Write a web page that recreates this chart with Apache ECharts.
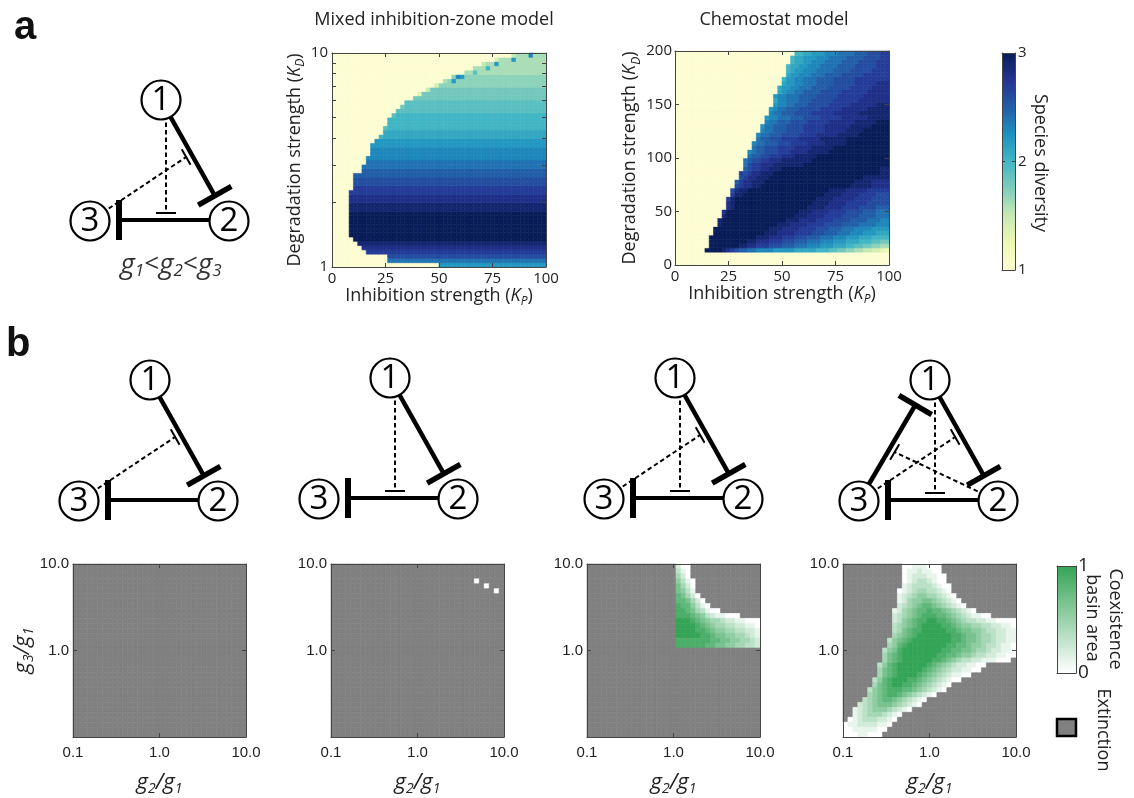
<!DOCTYPE html>
<html>
<head>
<meta charset="utf-8">
<title>Species diversity and coexistence basin</title>
<script src="https://cdn.jsdelivr.net/npm/echarts@6.0.0/dist/echarts.min.js"></script>
<style>
html,body{margin:0;padding:0;background:#fff;}
#chart{width:1134px;height:798px;}
</style>
</head>
<body>
<div id="chart"></div>
<script>
// ======================= DATA =======================
// Species-diversity code: position in this string / 10 + 1  (0 -> 1.0 ... K -> 3.0)
const DIVERSITY_CODES = '0123456789ABCDEFGHIJK';

// Mixed inhibition-zone model: 50 columns (K_P 0..100, step 2) x 50 rows (log10 K_D 0..1, step 0.02)
// run-length rows, bottom row first; token = code 'x' count
const mixedRowsBottomUp = [
  "0x25 Cx25", "0x13 Ex37", "0x13 Gx37", "0x8 Hx42", "0x7 Ix43",
  "0x6 Jx44", "0x5 Kx45", "0x4 Kx46", "0x4 Kx46", "0x4 Kx46",
  "0x4 Kx46", "0x4 Kx46", "0x4 Kx46", "0x4 Jx46", "0x4 Jx46",
  "0x4 Ix46", "0x4 Ix46", "0x4 Hx46", "0x5 Hx45", "0x5 Gx45",
  "0x5 Gx45", "0x5 Fx45", "0x7 Fx43", "0x7 Ex43", "0x8 Ex42",
  "0x8 Dx42", "0x9 Dx41", "0x9 Dx41", "0x9 Cx41", "0x10 Cx40",
  "0x11 Ax1 Bx38", "0x12 Bx38", "0x12 9x1 Ax37", "0x13 Ax37", "0x13 Ax37",
  "0x14 9x1 Ax35", "0x15 9x35", "0x16 8x1 9x33", "0x17 9x33", "0x19 8x31",
  "0x20 3x1 8x29", "0x22 5x1 8x27", "0x24 4x1 7x25", "0x26 6x1 7x1 Cx1 7x21", "0x28 7x1 Dx1 Cx1 7x19",
  "0x31 6x2 9x1 6x16", "0x33 6x3 Ax1 6x13", "0x35 5x1 6x2 Cx1 6x11", "0x38 4x1 6x3 Cx1 6x7", "0x42 5x1 6x3 Dx1 6x3"
];

// Chemostat model: 50 columns (K_P 0..100, step 2) x 50 rows (K_D 0..200, step 4), bottom row first
const chemoRowsBottomUp = [
  "0x50", "0x50", "0x50",
  "0x7 Kx4 Jx1 Ix1 Hx1 Gx1 Fx2 Ex2 Dx4 Cx5 Bx5 Ax3 9x2 8x2 7x2 6x2 5x2 4x2 3x1 2x1",
  "0x8 Kx7 Jx2 Ix2 Hx3 Gx3 Fx3 Ex3 Dx3 Cx3 Bx3 Ax2 9x2 8x2 7x2 6x2",
  "0x8 Kx9 Jx2 Ix3 Hx3 Gx3 Fx3 Ex3 Dx3 Cx3 Bx3 Ax3 9x2 8x2",
  "0x8 Kx11 Jx3 Ix3 Hx3 Gx3 Fx3 Ex3 Dx3 Cx3 Bx3 Ax4",
  "0x9 Kx12 Jx3 Ix4 Hx4 Gx3 Fx3 Ex3 Dx3 Cx3 Bx3",
  "0x9 Kx13 Jx3 Ix4 Hx4 Gx3 Fx3 Ex3 Dx4 Cx4",
  "0x10 Jx1 Kx13 Jx3 Ix4 Hx4 Gx4 Fx4 Ex4 Dx3",
  "0x10 Jx1 Kx15 Jx3 Ix4 Hx4 Gx4 Fx4 Ex3 Dx2",
  "0x11 Jx1 Kx16 Jx3 Ix4 Hx4 Gx4 Fx4 Ex3",
  "0x11 Ix1 Kx17 Jx3 Ix4 Hx4 Gx4 Fx3 Ex3",
  "0x12 Ix1 Jx1 Kx17 Jx4 Ix4 Hx4 Gx4 Fx3",
  "0x12 Ix1 Jx1 Kx18 Jx4 Ix4 Hx5 Gx5",
  "0x12 Hx1 Jx1 Kx19 Jx4 Ix5 Hx4 Gx4",
  "0x13 Hx1 Jx2 Kx19 Jx4 Ix4 Hx4 Gx3",
  "0x13 Gx1 Ix1 Jx2 Kx19 Jx4 Ix5 Hx5",
  "0x14 Gx1 Hx1 Ix2 Jx2 Kx21 Jx5 Ix4",
  "0x14 Fx1 Hx1 Ix2 Jx3 Kx21 Jx4 Ix4",
  "0x15 Gx1 Hx1 Ix2 Jx3 Kx22 Jx6",
  "0x15 Hx1 Gx1 Hx1 Ix2 Jx3 Kx25 Jx2",
  "0x16 Fx1 Gx1 Hx2 Ix2 Jx3 Kx23 Jx2",
  "0x16 Ex1 Gx1 Hx2 Ix3 Jx7 Kx20",
  "0x16 Ex1 Fx1 Gx2 Hx2 Ix3 Jx7 Kx18",
  "0x17 Ex1 Fx2 Gx2 Hx3 Ix3 Jx5 Kx17",
  "0x17 Dx1 Ex1 Fx2 Gx3 Hx3 Ix4 Jx5 Kx14",
  "0x18 Ex1 Fx2 Gx3 Hx4 Ix4 Jx5 Kx13",
  "0x18 Dx1 Ex2 Fx3 Gx3 Hx4 Ix4 Jx5 Kx10",
  "0x19 Ex1 Fx2 Gx3 Hx4 Ix5 Jx6 Kx10",
  "0x19 Dx1 Ex2 Fx3 Gx4 Hx4 Ix5 Jx5 Kx7",
  "0x20 Dx1 Ex2 Fx3 Gx4 Hx5 Ix5 Jx4 Kx6",
  "0x20 Cx1 Ex2 Fx3 Gx4 Hx5 Ix6 Jx5 Kx4",
  "0x21 Dx1 Ex2 Fx3 Gx4 Hx5 Ix6 Jx5 Kx3",
  "0x21 Cx1 Dx2 Ex3 Fx3 Gx4 Hx5 Ix6 Jx5",
  "0x22 Dx1 Ex2 Fx3 Gx4 Hx5 Ix6 Jx7",
  "0x22 Cx1 Dx1 Ex2 Fx3 Gx5 Hx5 Ix6 Jx5",
  "0x23 Cx1 Dx2 Ex2 Fx3 Gx5 Hx5 Ix6 Jx3",
  "0x23 Bx1 Dx2 Ex3 Fx3 Gx5 Hx6 Ix7",
  "0x23 Cx1 Dx2 Ex3 Fx4 Gx5 Hx6 Ix6",
  "0x24 Bx1 Cx1 Dx2 Ex2 Fx4 Gx5 Hx6 Ix5",
  "0x24 Bx1 Cx2 Dx2 Ex3 Fx4 Gx5 Hx5 Ix4",
  "0x25 Bx1 Cx2 Dx2 Ex3 Fx4 Gx5 Hx5 Ix3",
  "0x25 Ax1 Cx2 Dx2 Ex3 Fx4 Gx5 Hx8",
  "0x26 Bx1 Cx2 Dx3 Ex3 Fx4 Gx5 Hx6",
  "0x26 Ax1 Bx1 Cx2 Dx3 Ex4 Fx4 Gx5 Hx4",
  "0x26 Ax1 Bx2 Cx2 Dx3 Ex4 Fx4 Gx5 Hx3",
  "0x27 Ax1 Bx2 Cx2 Dx3 Ex4 Fx4 Gx4 Hx3",
  "0x27 Ax1 Bx2 Cx3 Dx3 Ex4 Fx4 Gx4 Hx2",
  "0x28 Ax2 Bx2 Cx3 Dx3 Ex4 Fx3 Gx3 Hx2"
];

// Coexistence basin area maps: 35 x 35 cells, log10(g2/g1) and log10(g3/g1) from -1 to 1.
// '.' = extinction, digit d = basin area d/9. Top row first.
const basin1RowsTopDown = [
  ".x35",".x35",".x35",".x35",".x35",".x35",".x35",".x35",".x35",".x35",
  ".x35",".x35",".x35",".x35",".x35",".x35",".x35",".x35",".x35",".x35",
  ".x35",".x35",".x35",".x35",".x35",".x35",".x35",".x35",".x35",".x35",
  ".x35",".x35",".x35",".x35",".x35"
];
const basin2RowsTopDown = [
  ".x35",".x35",".x35",".x29 0x1 .x5",".x31 0x1 .x3",".x33 0x1 .x1",".x35",".x35",".x35",".x35",
  ".x35",".x35",".x35",".x35",".x35",".x35",".x35",".x35",".x35",".x35",
  ".x35",".x35",".x35",".x35",".x35",".x35",".x35",".x35",".x35",".x35",
  ".x35",".x35",".x35",".x35",".x35"
];
const basin3RowsTopDown = [
  ".x18 2x1 0x2 .x14",
  ".x18 3x1 1x1 0x1 .x14",
  ".x18 4x1 2x1 0x1 .x14",
  ".x18 5x1 3x1 1x1 0x1 .x13",
  ".x18 6x1 4x1 2x1 0x1 .x13",
  ".x18 6x1 5x1 3x1 1x1 .x13",
  ".x18 7x1 6x1 4x1 2x1 0x1 .x12",
  ".x18 7x2 6x1 4x1 2x1 0x1 .x11",
  ".x18 8x1 7x2 5x1 3x1 1x1 0x1 .x10",
  ".x18 8x2 7x1 6x1 4x1 3x1 1x1 0x2 .x8",
  ".x18 8x3 7x1 6x1 5x1 3x1 2x1 1x2 0x3 .x4",
  ".x18 9x3 8x1 7x1 6x1 5x1 4x2 3x1 2x2 1x2 0x3",
  ".x18 9x4 8x1 7x1 6x1 5x1 4x2 3x2 2x2 1x2 0x1",
  ".x18 9x4 8x2 7x1 6x1 5x2 4x2 3x2 2x2 1x1",
  ".x18 9x5 8x2 7x1 6x2 5x2 4x2 3x1 2x1 1x1",
  ".x18 8x7 7x2 6x2 5x2 4x2 3x1 2x1",
  ".x18 8x6 7x2 6x2 5x2 4x2 3x2 2x1",
  ".x35",".x35",".x35",".x35",".x35",".x35",".x35",".x35",".x35",
  ".x35",".x35",".x35",".x35",".x35",".x35",".x35",".x35",".x35"
];
const basin4RowsTopDown = [
  ".x12 0x2 1x3 0x3 .x15",
  ".x12 0x1 1x2 2x1 1x2 0x2 .x15",
  ".x12 0x1 1x1 2x3 1x2 0x2 .x14",
  ".x12 0x1 1x1 2x1 3x2 2x1 1x1 0x2 .x14",
  ".x12 1x1 2x1 3x4 2x1 1x1 0x2 .x13",
  ".x11 0x1 1x1 2x1 3x1 4x2 3x2 2x1 1x1 0x1 .x13",
  ".x11 1x1 2x1 3x1 4x1 5x2 4x2 3x1 2x1 1x1 0x1 .x12",
  ".x11 1x1 2x1 4x1 5x2 6x2 5x1 4x1 3x1 2x1 1x1 0x1 .x11",
  ".x11 2x1 3x1 4x1 5x1 6x1 7x2 6x1 5x1 4x1 3x1 2x1 1x1 0x1 .x10",
  ".x10 1x1 2x1 4x1 5x1 6x1 7x2 8x1 7x2 6x1 5x1 4x1 3x1 2x1 1x1 0x1 .x8",
  ".x10 2x1 3x1 4x1 5x1 6x1 7x1 8x3 7x2 6x1 5x1 4x1 3x1 2x1 1x2 0x2 .x5",
  ".x10 2x1 3x1 5x1 6x1 7x1 8x2 9x2 8x2 7x1 6x1 5x1 4x1 3x2 2x2 1x2 0x4",
  ".x10 3x1 4x1 5x1 6x1 7x1 8x1 9x4 8x2 7x1 6x1 5x2 4x2 3x2 2x2 1x2 0x1",
  ".x10 3x1 4x1 6x1 7x1 8x2 9x5 8x2 7x1 6x2 5x2 4x1 3x2 2x2 1x2",
  ".x10 4x1 5x1 6x1 7x1 8x1 9x7 8x2 7x1 6x2 5x1 4x2 3x1 2x2 1x2",
  ".x9 3x1 5x1 6x1 7x1 8x1 9x8 8x2 7x1 6x2 5x1 4x2 3x1 2x2 1x2",
  ".x9 4x1 5x1 7x1 8x1 9x8 8x2 7x2 6x1 5x2 4x1 3x2 2x1 1x2 0x1",
  ".x8 3x1 5x1 6x1 8x1 9x8 8x2 7x2 6x2 5x1 4x2 3x1 2x2 1x2 0x1",
  ".x8 4x1 6x1 7x1 8x1 9x7 8x2 7x2 6x1 5x2 4x1 3x2 2x2 1x2 0x2",
  ".x8 4x1 6x1 7x1 8x1 9x6 8x2 7x1 6x1 5x1 4x1 3x2 2x2 1x3 0x3 .x1",
  ".x7 3x1 5x1 7x1 8x1 9x6 8x1 7x1 6x1 5x1 4x1 3x1 2x2 1x2 0x2 .x6",
  ".x7 4x1 6x1 7x1 8x1 9x5 8x1 7x1 6x1 5x1 4x1 3x1 2x2 1x2 0x2 .x7",
  ".x7 4x1 6x1 7x1 8x1 9x4 8x1 7x1 6x1 5x1 4x1 3x1 2x1 1x2 0x2 .x9",
  ".x6 3x1 5x1 7x1 8x1 9x3 8x2 7x1 6x1 5x1 4x1 3x1 2x1 1x1 0x2 .x11",
  ".x6 4x1 6x1 7x1 8x1 9x2 8x2 7x1 6x1 5x1 4x1 3x1 2x1 1x1 0x1 .x13",
  ".x5 3x1 5x1 6x1 7x1 8x3 7x2 6x1 5x1 4x1 3x1 2x1 1x1 0x1 .x14",
  ".x5 4x1 5x1 6x1 7x1 8x2 7x1 6x1 5x1 4x1 3x1 2x1 1x1 0x1 .x16",
  ".x4 3x1 4x1 5x1 6x1 7x2 6x1 5x1 4x1 3x1 2x1 1x1 0x1 .x18",
  ".x3 2x1 3x1 4x1 5x1 6x3 5x1 4x1 3x1 2x1 1x1 0x1 .x19",
  ".x2 1x1 2x1 3x1 4x1 5x3 4x1 3x1 2x1 1x1 0x1 .x21",
  ".x2 1x1 2x1 3x1 4x3 3x1 2x1 1x1 0x1 .x23",
  ".x1 0x1 1x1 2x1 3x3 2x2 1x1 0x1 .x24",
  "0x1 1x2 2x4 1x2 0x1 .x25",
  "0x2 1x5 0x2 .x26",
  "0x3 1x2 0x3 .x27"
];

// axis ticks and labels
const kpTicks = [0, 25, 50, 75, 100];
const mixedKdLabels = [1, 10];
const mixedKdMinorTicks = [2, 3, 4, 5, 6, 7, 8, 9];
const chemoKdTicks = [0, 50, 100, 150, 200];
const diversityTicks = [1, 2, 3];
const basinXTicks = [0.1, 1, 10];
const basinYTicks = [1, 10];
const basinAreaTicks = [0, 1];

// ======================= BUILD =======================
const SANS = '"Open Sans", "Noto Sans", sans-serif';
const HELV = '"Liberation Sans", Arial, sans-serif';
const AX = '#444';
const TXT = '#222';

function expand(row, n) {
  const out = [];
  row.trim().split(/\s+/).forEach(tok => {
    const ch = tok.charAt(0), k = parseInt(tok.slice(2), 10);
    for (let i = 0; i < k; i++) out.push(ch);
  });
  while (out.length < n) out.push(out[out.length - 1]);
  out.length = n;
  return out;
}

const mixedCells = [];
mixedRowsBottomUp.forEach((row, r) => {
  expand(row, 50).forEach((ch, c) => {
    mixedCells.push([c * 2, c * 2 + 2, r / 50, (r + 1) / 50, 1 + DIVERSITY_CODES.indexOf(ch) / 10]);
  });
});
const chemoCells = [];
chemoRowsBottomUp.forEach((row, r) => {
  expand(row, 50).forEach((ch, c) => {
    chemoCells.push([c * 2, c * 2 + 2, r * 4, r * 4 + 4, 1 + DIVERSITY_CODES.indexOf(ch) / 10]);
  });
});
function basinCells(rows) {
  const out = [], n = rows.length;
  rows.forEach((row, k) => {
    const r = n - 1 - k;
    expand(row, n).forEach((ch, c) => {
      out.push([-1 + 2 * c / n, -1 + 2 * (c + 1) / n, -1 + 2 * r / n, -1 + 2 * (r + 1) / n,
                ch === '.' ? -1 : parseInt(ch, 10) / 9]);
    });
  });
  return out;
}
const basinData = [basin1RowsTopDown, basin2RowsTopDown, basin3RowsTopDown, basin4RowsTopDown].map(basinCells);

// colour ramps
const YLGNBU = [[1, '#fdfdd3'], [1.25, '#edf8b1'], [1.5, '#c7e9b4'], [1.75, '#7fcdbb'], [2, '#41b6c4'],
                [2.25, '#1d91c0'], [2.5, '#225ea8'], [2.75, '#253494'], [3, '#081d58']];
const GREENS = [[0, '#ffffff'], [1, '#34a456']];
const EXTINCT = '#808080';
function hexRgb(c) { return [1, 3, 5].map(i => parseInt(c.slice(i, i + 2), 16)); }
function ramp(stops, v) {
  if (v <= stops[0][0]) return stops[0][1];
  for (let i = 1; i < stops.length; i++) {
    if (v <= stops[i][0]) {
      const t = (v - stops[i - 1][0]) / (stops[i][0] - stops[i - 1][0]);
      const a = hexRgb(stops[i - 1][1]), b = hexRgb(stops[i][1]);
      return 'rgb(' + a.map((x, k) => Math.round(x + (b[k] - x) * t)).join(',') + ')';
    }
  }
  return stops[stops.length - 1][1];
}
const divColor = v => ramp(YLGNBU, v);
const basinColor = v => v < 0 ? EXTINCT : ramp(GREENS, v);

// grids
const grids = [
  { left: 332, top: 53, width: 214, height: 214 },   // 0 mixed
  { left: 675, top: 51, width: 214, height: 214 },   // 1 chemostat
  { left: 1002, top: 53, width: 13, height: 217 },   // 2 diversity colour bar
  { left: 73, top: 564, width: 173, height: 173 },   // 3..6 basin maps
  { left: 331, top: 564, width: 173, height: 173 },
  { left: 587, top: 564, width: 173, height: 173 },
  { left: 843, top: 564, width: 173, height: 173 },
  { left: 1057, top: 566, width: 19, height: 107 }   // 7 basin colour bar
].map(g => Object.assign({ show: false, containLabel: false, outerBoundsMode: 'none' }, g));

const xAxes = [], yAxes = [];
function axis(list, gi, pos, o) {
  const a = {
    type: 'value', gridIndex: gi, position: pos, min: o.min, max: o.max, z: 10, silent: true,
    axisLine: { show: true, onZero: false, lineStyle: { color: AX, width: 1 } },
    axisTick: { show: !!(o.ticks && o.ticks.length), inside: true, length: o.tickLen || 4,
                lineStyle: { color: AX, width: 1 }, customValues: o.ticks || [] },
    axisLabel: { show: !!o.labels, fontFamily: o.font || SANS, fontSize: o.fontSize || 15, color: TXT,
                 margin: o.margin == null ? 5 : o.margin },
    splitLine: { show: false }
  };
  if (o.interval) a.interval = o.interval;
  if (o.labels) { a.axisLabel.customValues = o.labels; a.axisLabel.formatter = o.formatter; }
  if (o.name) {
    a.name = o.name; a.nameLocation = 'middle'; a.nameGap = o.nameGap;
    if (o.nameRotate != null) a.nameRotate = o.nameRotate;
    a.nameTextStyle = o.nameTextStyle;
  }
  list.push(a);
  return list.length - 1;
}

const nameRich = {
  t: { fontFamily: SANS, fontSize: 18, color: TXT, lineHeight: 24 },
  k: { fontFamily: SANS, fontSize: 18, fontStyle: 'italic', color: TXT, lineHeight: 24 },
  s: { fontFamily: SANS, fontSize: 12, fontStyle: 'italic', color: TXT, lineHeight: 12, verticalAlign: 'bottom' }
};
const kpName = '{t|Inhibition strength (}{k|K}{s|P}{t|)}';
const kdName = '{t|Degradation strength (}{k|K}{s|D}{t|)}';
const gRich = {
  g: { fontFamily: SANS, fontSize: 22, fontStyle: 'italic', color: TXT, lineHeight: 26 },
  s: { fontFamily: SANS, fontSize: 14, fontStyle: 'italic', color: TXT, lineHeight: 14, verticalAlign: 'bottom' }
};
const inner = arr => arr.slice(1, -1);
const log10 = v => Math.log10(v);

const series = [];
function cellSeries(xi, yi, data, colorFn) {
  series.push({
    type: 'custom', xAxisIndex: xi, yAxisIndex: yi, data: data, silent: true, animation: false, z: 2,
    encode: { x: [0, 1], y: [2, 3] },
    renderItem: function (params, api) {
      const p0 = api.coord([api.value(0), api.value(3)]);
      const p1 = api.coord([api.value(1), api.value(2)]);
      const c = colorFn(api.value(4));
      return { type: 'rect', shape: { x: p0[0], y: p0[1], width: p1[0] - p0[0], height: p1[1] - p0[1] },
               style: { fill: c, stroke: c, lineWidth: 0.6 } };
    }
  });
}
function barSeries(xi, yi, range, stops) {
  series.push({
    type: 'custom', xAxisIndex: xi, yAxisIndex: yi, data: [[0, 1, range[0], range[1]]], silent: true, animation: false, z: 2,
    encode: { x: [0, 1], y: [2, 3] },
    renderItem: function (params, api) {
      const p0 = api.coord([api.value(0), api.value(3)]);
      const p1 = api.coord([api.value(1), api.value(2)]);
      const span = range[1] - range[0];
      return { type: 'rect', shape: { x: p0[0], y: p0[1], width: p1[0] - p0[0], height: p1[1] - p0[1] },
               style: { fill: new echarts.graphic.LinearGradient(0, 1, 0, 0,
                 stops.map(s => ({ offset: (s[0] - range[0]) / span, color: s[1] }))) } };
    }
  });
}

// --- mixed inhibition-zone model
let xi = axis(xAxes, 0, 'bottom', { min: 0, max: 100, interval: 25, ticks: inner(kpTicks), labels: kpTicks,
  formatter: v => String(v), margin: 4, name: kpName, nameGap: 17, nameTextStyle: { rich: nameRich } });
axis(xAxes, 0, 'top', { min: 0, max: 100, interval: 25, ticks: inner(kpTicks) });
let yi = axis(yAxes, 0, 'left', { min: 0, max: 1, interval: 1, ticks: mixedKdMinorTicks.map(log10),
  labels: mixedKdLabels.map(log10), formatter: v => String(Math.round(Math.pow(10, v))), margin: 4,
  name: kdName, nameGap: 21, nameRotate: 90, nameTextStyle: { rich: nameRich } });
axis(yAxes, 0, 'right', { min: 0, max: 1, interval: 1, ticks: mixedKdMinorTicks.map(log10) });
cellSeries(xi, yi, mixedCells, divColor);

// --- chemostat model
xi = axis(xAxes, 1, 'bottom', { min: 0, max: 100, interval: 25, ticks: inner(kpTicks), labels: kpTicks,
  formatter: v => String(v), margin: 4, name: kpName, nameGap: 17, nameTextStyle: { rich: nameRich } });
axis(xAxes, 1, 'top', { min: 0, max: 100, interval: 25, ticks: inner(kpTicks) });
yi = axis(yAxes, 1, 'left', { min: 0, max: 200, interval: 50, ticks: inner(chemoKdTicks), labels: chemoKdTicks,
  formatter: v => String(v), margin: 3, name: kdName, nameGap: 32, nameRotate: 90, nameTextStyle: { rich: nameRich } });
axis(yAxes, 1, 'right', { min: 0, max: 200, interval: 50, ticks: inner(chemoKdTicks) });
cellSeries(xi, yi, chemoCells, divColor);

// --- species diversity colour bar
xi = axis(xAxes, 2, 'bottom', { min: 0, max: 1 });
axis(xAxes, 2, 'top', { min: 0, max: 1 });
axis(yAxes, 2, 'left', { min: 1, max: 3, interval: 1, ticks: inner(diversityTicks), tickLen: 3 });
yi = axis(yAxes, 2, 'right', { min: 1, max: 3, interval: 1, ticks: inner(diversityTicks), tickLen: 3,
  labels: diversityTicks, formatter: v => String(v), margin: 3 });
barSeries(xi, yi, [1, 3], YLGNBU);

// --- basin maps
const gName = '{g|g}{s|2}{g|/g}{s|1}';
const g3Name = '{g|g}{s|3}{g|/g}{s|1}';
const basinFmt = v => Math.pow(10, v).toFixed(1);
for (let m = 0; m < 4; m++) {
  const gi = 3 + m;
  xi = axis(xAxes, gi, 'bottom', { min: -1, max: 1, interval: 1, ticks: [log10(1)], labels: basinXTicks.map(log10),
    formatter: basinFmt, font: HELV, fontSize: 15, margin: 8, name: gName, nameGap: 33, nameTextStyle: { rich: gRich } });
  axis(xAxes, gi, 'top', { min: -1, max: 1, interval: 1, ticks: [log10(1)] });
  const yo = { min: -1, max: 1, interval: 1, ticks: [log10(1)], labels: basinYTicks.map(log10), formatter: basinFmt,
    font: HELV, fontSize: 15, margin: 4 };
  if (m === 0) Object.assign(yo, { name: g3Name, nameGap: 36, nameRotate: 90, nameTextStyle: { rich: gRich } });
  yi = axis(yAxes, gi, 'left', yo);
  axis(yAxes, gi, 'right', { min: -1, max: 1, interval: 1, ticks: [log10(1)] });
  cellSeries(xi, yi, basinData[m], basinColor);
}

// --- basin area colour bar
xi = axis(xAxes, 7, 'bottom', { min: 0, max: 1 });
axis(xAxes, 7, 'top', { min: 0, max: 1 });
axis(yAxes, 7, 'left', { min: 0, max: 1, interval: 1 });
yi = axis(yAxes, 7, 'right', { min: 0, max: 1, interval: 1, labels: basinAreaTicks, formatter: v => String(v),
  margin: 2, fontSize: 19 });
barSeries(xi, yi, [0, 1], GREENS);

// ======================= DECORATION (network motifs, texts) =======================
const graphics = [];
function txt(x, y, text, o) {
  o = o || {};
  graphics.push({
    type: 'text', x: x, y: y, rotation: o.rotation || 0, silent: true, z: 60,
    style: Object.assign({ text: text, fill: o.fill || TXT, fontFamily: o.fontFamily || SANS, fontSize: o.fontSize || 16,
      fontWeight: o.fontWeight || 'normal', fontStyle: o.fontStyle || 'normal',
      align: 'center', textAlign: 'center', verticalAlign: 'middle', textVerticalAlign: 'middle' }, o.rich ? { rich: o.rich } : {})
  });
}
const unit = v => { const L = Math.hypot(v[0], v[1]); return [v[0] / L, v[1] / L]; };
const add = (a, b, k) => [a[0] + b[0] * k, a[1] + b[1] * k];
const N1 = [0, 0], N2 = [68, 121], N3 = [-71, 121];
function network(ox, oy, edges) {
  const lines = [];
  const L = (a, b, w, dash) => lines.push({ type: 'line', silent: true, z: 50,
    shape: { x1: ox + a[0], y1: oy + a[1], x2: ox + b[0], y2: oy + b[1] },
    style: { stroke: '#000', lineWidth: w, lineDash: dash ? [4.5, 3] : null, lineCap: 'butt' } });
  const d12 = unit([N2[0] - N1[0], N2[1] - N1[1]]);
  const q12 = [d12[1], -d12[0]];
  const u31 = unit([N1[0] - N3[0], N1[1] - N3[1]]);
  const q31 = [u31[1], -u31[0]];
  edges.forEach(e => {
    if (e === 'E12') {
      const bc = add(N2, d12, -29);
      L(N1, bc, 4.5); L(add(bc, q12, -19), add(bc, q12, 19), 5.5);
    } else if (e === 'E23') {
      const y = N2[1] - 1, bx = N3[0] + 29;
      L([N2[0], y], [bx, y], 4); L([bx, y - 20], [bx, y + 20], 6);
    } else if (e === 'E31') {
      const bc = add(N1, u31, -29);
      L(N3, bc, 4.5); L(add(bc, q31, -19), add(bc, q31, 19), 5.5);
    } else if (e === 'D1') {
      const yt = N2[1] - 8;
      L([5, 0], [5, yt], 2, true); L([-5, yt], [15, yt], 2);
    } else if (e === 'D3') {
      const tc = add(add(N1, d12, 62), [-d12[1], d12[0]], 6);
      L(N3, tc, 2, true); L(add(tc, d12, -9), add(tc, d12, 9), 2);
    } else if (e === 'D2') {
      const w = [-u31[0], -u31[1]];
      const tc = add(add(N1, w, 80), [w[1], -w[0]], 6);
      L(N2, tc, 2, true); L(add(tc, w, -9), add(tc, w, 9), 2);
    }
  });
  graphics.push(...lines);
  [[N1, '1'], [N2, '2'], [N3, '3']].forEach(([p, lab]) => {
    graphics.push({ type: 'circle', silent: true, z: 55, shape: { cx: ox + p[0], cy: oy + p[1], r: 19.5 },
      style: { fill: '#fff', stroke: '#000', lineWidth: 2.2 } });
    txt(ox + p[0], oy + p[1] + 1, lab, { fontSize: 33, fill: '#000' });
  });
}
network(161, 100, ['E12', 'E23', 'D1', 'D3']);
network(150, 380, ['E12', 'E23', 'D3']);
network(390, 378, ['E12', 'E23', 'D1']);
network(675, 378, ['E12', 'E23', 'D1', 'D3']);
network(930, 380, ['E12', 'E23', 'E31', 'D1', 'D3', 'D2']);

// panel letters and titles
graphics.push({ type: 'text', x: 14, y: 28, silent: true, z: 60, style: { text: 'a', fill: '#111', fontFamily: HELV,
  fontSize: 40, fontWeight: 'bold', align: 'left', textAlign: 'left', verticalAlign: 'middle', textVerticalAlign: 'middle' } });
graphics.push({ type: 'text', x: 6, y: 345, silent: true, z: 60, style: { text: 'b', fill: '#111', fontFamily: HELV,
  fontSize: 40, fontWeight: 'bold', align: 'left', textAlign: 'left', verticalAlign: 'middle', textVerticalAlign: 'middle' } });
txt(434, 20, 'Mixed inhibition-zone model', { fontSize: 18 });
txt(774, 20, 'Chemostat model', { fontSize: 18 });
txt(171, 265, '{g|g}{s|1}{o|<}{g|g}{s|2}{o|<}{g|g}{s|3}', { rich: {
  g: { fontFamily: SANS, fontSize: 28, fontStyle: 'italic', fill: '#333', color: '#333', lineHeight: 30 },
  s: { fontFamily: SANS, fontSize: 17, fontStyle: 'italic', fill: '#333', color: '#333', lineHeight: 16, verticalAlign: 'bottom' },
  o: { fontFamily: SANS, fontSize: 26, fill: '#333', color: '#333', lineHeight: 30 } } });
txt(1040, 163, 'Species diversity', { fontSize: 18, rotation: -Math.PI / 2 });
txt(1092, 618, 'basin area', { fontSize: 18, rotation: -Math.PI / 2 });
txt(1115, 619, 'Coexistence', { fontSize: 18, rotation: -Math.PI / 2 });
txt(1103, 730, 'Extinction', { fontSize: 18, rotation: -Math.PI / 2 });
graphics.push({ type: 'rect', silent: true, z: 60, shape: { x: 1057, y: 719, width: 19, height: 17 },
  style: { fill: EXTINCT, stroke: '#000', lineWidth: 2.5 } });

const chart = echarts.init(document.getElementById('chart'), null, { renderer: 'canvas', width: 1134, height: 798 });
chart.setOption({
  animation: false,
  backgroundColor: '#ffffff',
  grid: grids,
  xAxis: xAxes,
  yAxis: yAxes,
  series: series,
  graphic: { elements: graphics }
});
</script>
</body>
</html>
